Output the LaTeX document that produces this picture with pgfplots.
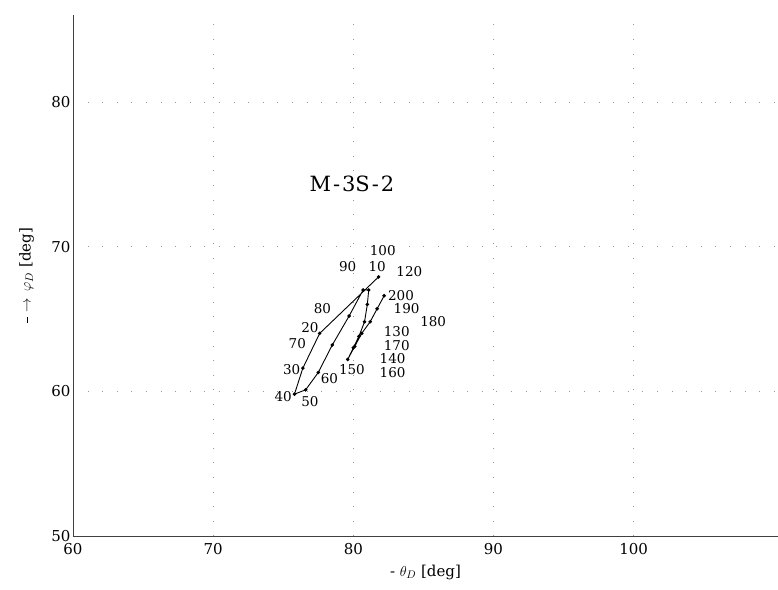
\documentclass[border=0pt]{standalone}
\usepackage{fontspec}
\setmainfont{DejaVu Serif}
\usepackage{pgfplots}
\pgfplotsset{compat=1.18}
\begin{document}
\begin{tikzpicture}
\begin{axis}[
  name=ax,
  scale only axis,
  width=705pt, height=521pt,
  xmin=60, xmax=110.3, ymin=50, ymax=86,
  axis lines=left,
  axis line style={black!75, line width=0.6pt, -},
  xtick={60,70,80,90,100}, ytick={50,60,70,80},
  major tick length=0pt,
  tick label style={font=\fontsize{15}{18}\selectfont},
  /pgf/number format/assume math mode=true,
  xticklabel style={yshift=-4pt},
  yticklabel style={xshift=1pt},
  grid=major,
  grid style={black!40, line width=0.6pt, dash pattern=on 0.6pt off 14pt},
  clip=false,
  xlabel={- $\theta_D$ [deg]},
  ylabel={\rule[0.35ex]{6pt}{0.5pt}\ $\rightarrow\,\varphi_D$ [deg]},
  xlabel style={at={(axis description cs:0.5,0)}, anchor=center, yshift=-36pt, font=\fontsize{15}{18}\selectfont},
  ylabel style={at={(axis description cs:-0.066,0.5)}, anchor=center, font=\fontsize{15}{18}\selectfont},
]
\addplot[black, line width=0.9pt, mark=*, mark size=1.3pt] coordinates {
 (81.8,67.9) (77.6,64.0) (76.4,61.6) (75.8,59.8) (76.6,60.1) (77.5,61.3)
 (78.5,63.2) (79.7,65.2) (80.7,67.0) (81.1,67.0) (81.0,66.0) (80.8,64.8)
 (80.4,63.8) (80.0,63.0) (79.6,62.2) (80.1,63.1) (80.6,64.0) (81.2,64.8)
 (81.7,65.7) (82.2,66.6)
};
\begin{scope}[every node/.style={font=\fontsize{13.5}{15}\selectfont, inner sep=0pt}]
\node at (axis cs:82.1,69.7) {100};
\node at (axis cs:79.6,68.6) {90};
\node at (axis cs:81.7,68.6) {10};
\node at (axis cs:84.0,68.3) {120};
\node at (axis cs:83.4,66.6) {200};
\node at (axis cs:83.8,65.7) {190};
\node at (axis cs:85.7,64.8) {180};
\node at (axis cs:83.1,64.1) {130};
\node at (axis cs:83.1,63.15) {170};
\node at (axis cs:82.8,62.25) {140};
\node at (axis cs:82.8,61.3) {160};
\node at (axis cs:79.9,61.5) {150};
\node at (axis cs:78.3,60.9) {60};
\node at (axis cs:76.9,59.3) {50};
\node at (axis cs:75.0,59.6) {40};
\node at (axis cs:75.6,61.5) {30};
\node at (axis cs:76.0,63.3) {70};
\node at (axis cs:76.9,64.4) {20};
\node at (axis cs:77.8,65.7) {80};
\end{scope}
\node[font=\fontsize{21}{25}\selectfont, inner sep=0pt] at (axis cs:79.9,74.3) {M\hspace{2pt}-\hspace{2pt}3S\hspace{2pt}-\hspace{2pt}2};
\end{axis}
\pgfresetboundingbox
\path (ax.south west) ++(-73pt,-54pt) coordinate (bl);
\path (ax.north east) ++(0pt,15pt) coordinate (tr);
\path (bl) rectangle (tr);
\end{tikzpicture}
\end{document}
